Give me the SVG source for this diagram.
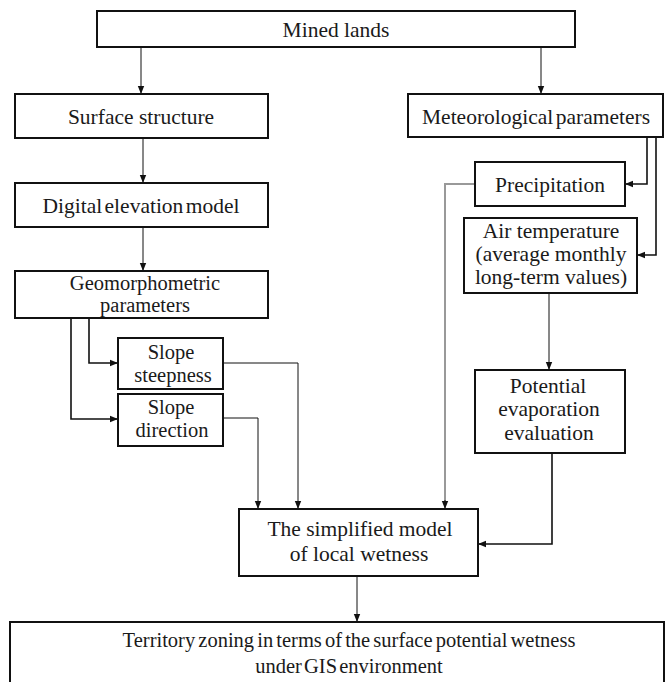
<svg xmlns="http://www.w3.org/2000/svg" width="672" height="682" viewBox="0 0 672 682">
<style>
.box{fill:#fff;stroke:#111;stroke-width:2}
.t{font-family:'Liberation Serif','Times New Roman','DejaVu Serif',serif;font-size:21.5px;fill:#1a1a1a;text-anchor:middle}
.s{font-size:20.5px}
.c{fill:none;stroke:#111;stroke-width:1}
.c2{fill:none;stroke:#111;stroke-width:1.6}
.g{fill:none;stroke:#999;stroke-width:2}
</style>
<defs>
<marker id="a" markerUnits="userSpaceOnUse" markerWidth="8" markerHeight="8" viewBox="0 0 8 8" refX="8" refY="4" orient="auto">
<path d="M0,0.8 L8,4 L0,7.2 Z" fill="#111"/>
</marker>
</defs>
<rect width="672" height="682" fill="#fff"/>
<g id="connectors">
<path class="c" d="M141,47 V94" marker-end="url(#a)"/>
<path class="c" d="M541,47 V94" marker-end="url(#a)"/>
<path class="c" d="M143,138 V183" marker-end="url(#a)"/>
<path class="c" d="M143,227 V271" marker-end="url(#a)"/>
<path class="c2" d="M89,318 V363 H118" marker-end="url(#a)"/>
<path class="c2" d="M71,318 V419 H118" marker-end="url(#a)"/>
<path class="c" d="M223,363 H298 V509" marker-end="url(#a)"/>
<path class="c" d="M223,418 H258 V509" marker-end="url(#a)"/>
<path class="g" d="M475,184 H445 V502"/>
<path class="c" d="M445,500 V509" marker-end="url(#a)"/>
<path class="c2" d="M647,137 V184 H625" marker-end="url(#a)"/>
<path class="c2" d="M656,137 V255 H637" marker-end="url(#a)"/>
<path class="c" d="M549,293 V370" marker-end="url(#a)"/>
<path class="c2" d="M552,453 V544 H478" marker-end="url(#a)"/>
<path class="c" d="M357,576 V622" marker-end="url(#a)"/>
</g>
<g id="mined"><rect class="box" x="97" y="11" width="478" height="36"/><text class="t" x="336" y="37">Mined lands</text></g>
<g id="surface"><rect class="box" x="15" y="94" width="253" height="44"/><text class="t" x="141" y="124">Surface structure</text></g>
<g id="meteo"><rect class="box" x="408" y="94" width="255" height="43"/><text class="t" x="536" y="124" word-spacing="-3">Meteorological parameters</text></g>
<g id="dem"><rect class="box" x="15" y="183" width="253" height="44"/><text class="t" x="141" y="213" word-spacing="-3">Digital elevation model</text></g>
<g id="geo"><rect class="box" x="15" y="271" width="253" height="47"/><text class="t s" x="145" y="290">Geomorphometric</text><text class="t s" x="145" y="312">parameters</text></g>
<g id="steep"><rect class="box" x="118" y="338" width="105" height="51"/><text class="t s" x="171" y="359">Slope</text><text class="t s" x="173" y="382">steepness</text></g>
<g id="dir"><rect class="box" x="118" y="394" width="105" height="52"/><text class="t s" x="171" y="414">Slope</text><text class="t s" x="172" y="437">direction</text></g>
<g id="precip"><rect class="box" x="475" y="162" width="150" height="44"/><text class="t" x="550" y="192">Precipitation</text></g>
<g id="air"><rect class="box" x="464" y="218" width="173" height="75"/><text class="t" x="551" y="238">Air temperature</text><text class="t" x="551" y="261">(average monthly</text><text class="t" x="551" y="284">long-term values)</text></g>
<g id="evap"><rect class="box" x="475" y="370" width="150" height="83"/><text class="t" x="548" y="393">Potential</text><text class="t" x="549" y="416">evaporation</text><text class="t" x="549" y="440">evaluation</text></g>
<g id="model"><rect class="box" x="239" y="509" width="239" height="67"/><text class="t" x="360" y="536">The simplified model</text><text class="t" x="359" y="561">of local wetness</text></g>
<g id="zoning"><rect class="box" x="10" y="622" width="654" height="75"/><text class="t s" x="349" y="647" word-spacing="-2">Territory zoning in terms of the surface potential wetness</text><text class="t s" x="349" y="673" word-spacing="-3">under GIS environment</text></g>
</svg>
